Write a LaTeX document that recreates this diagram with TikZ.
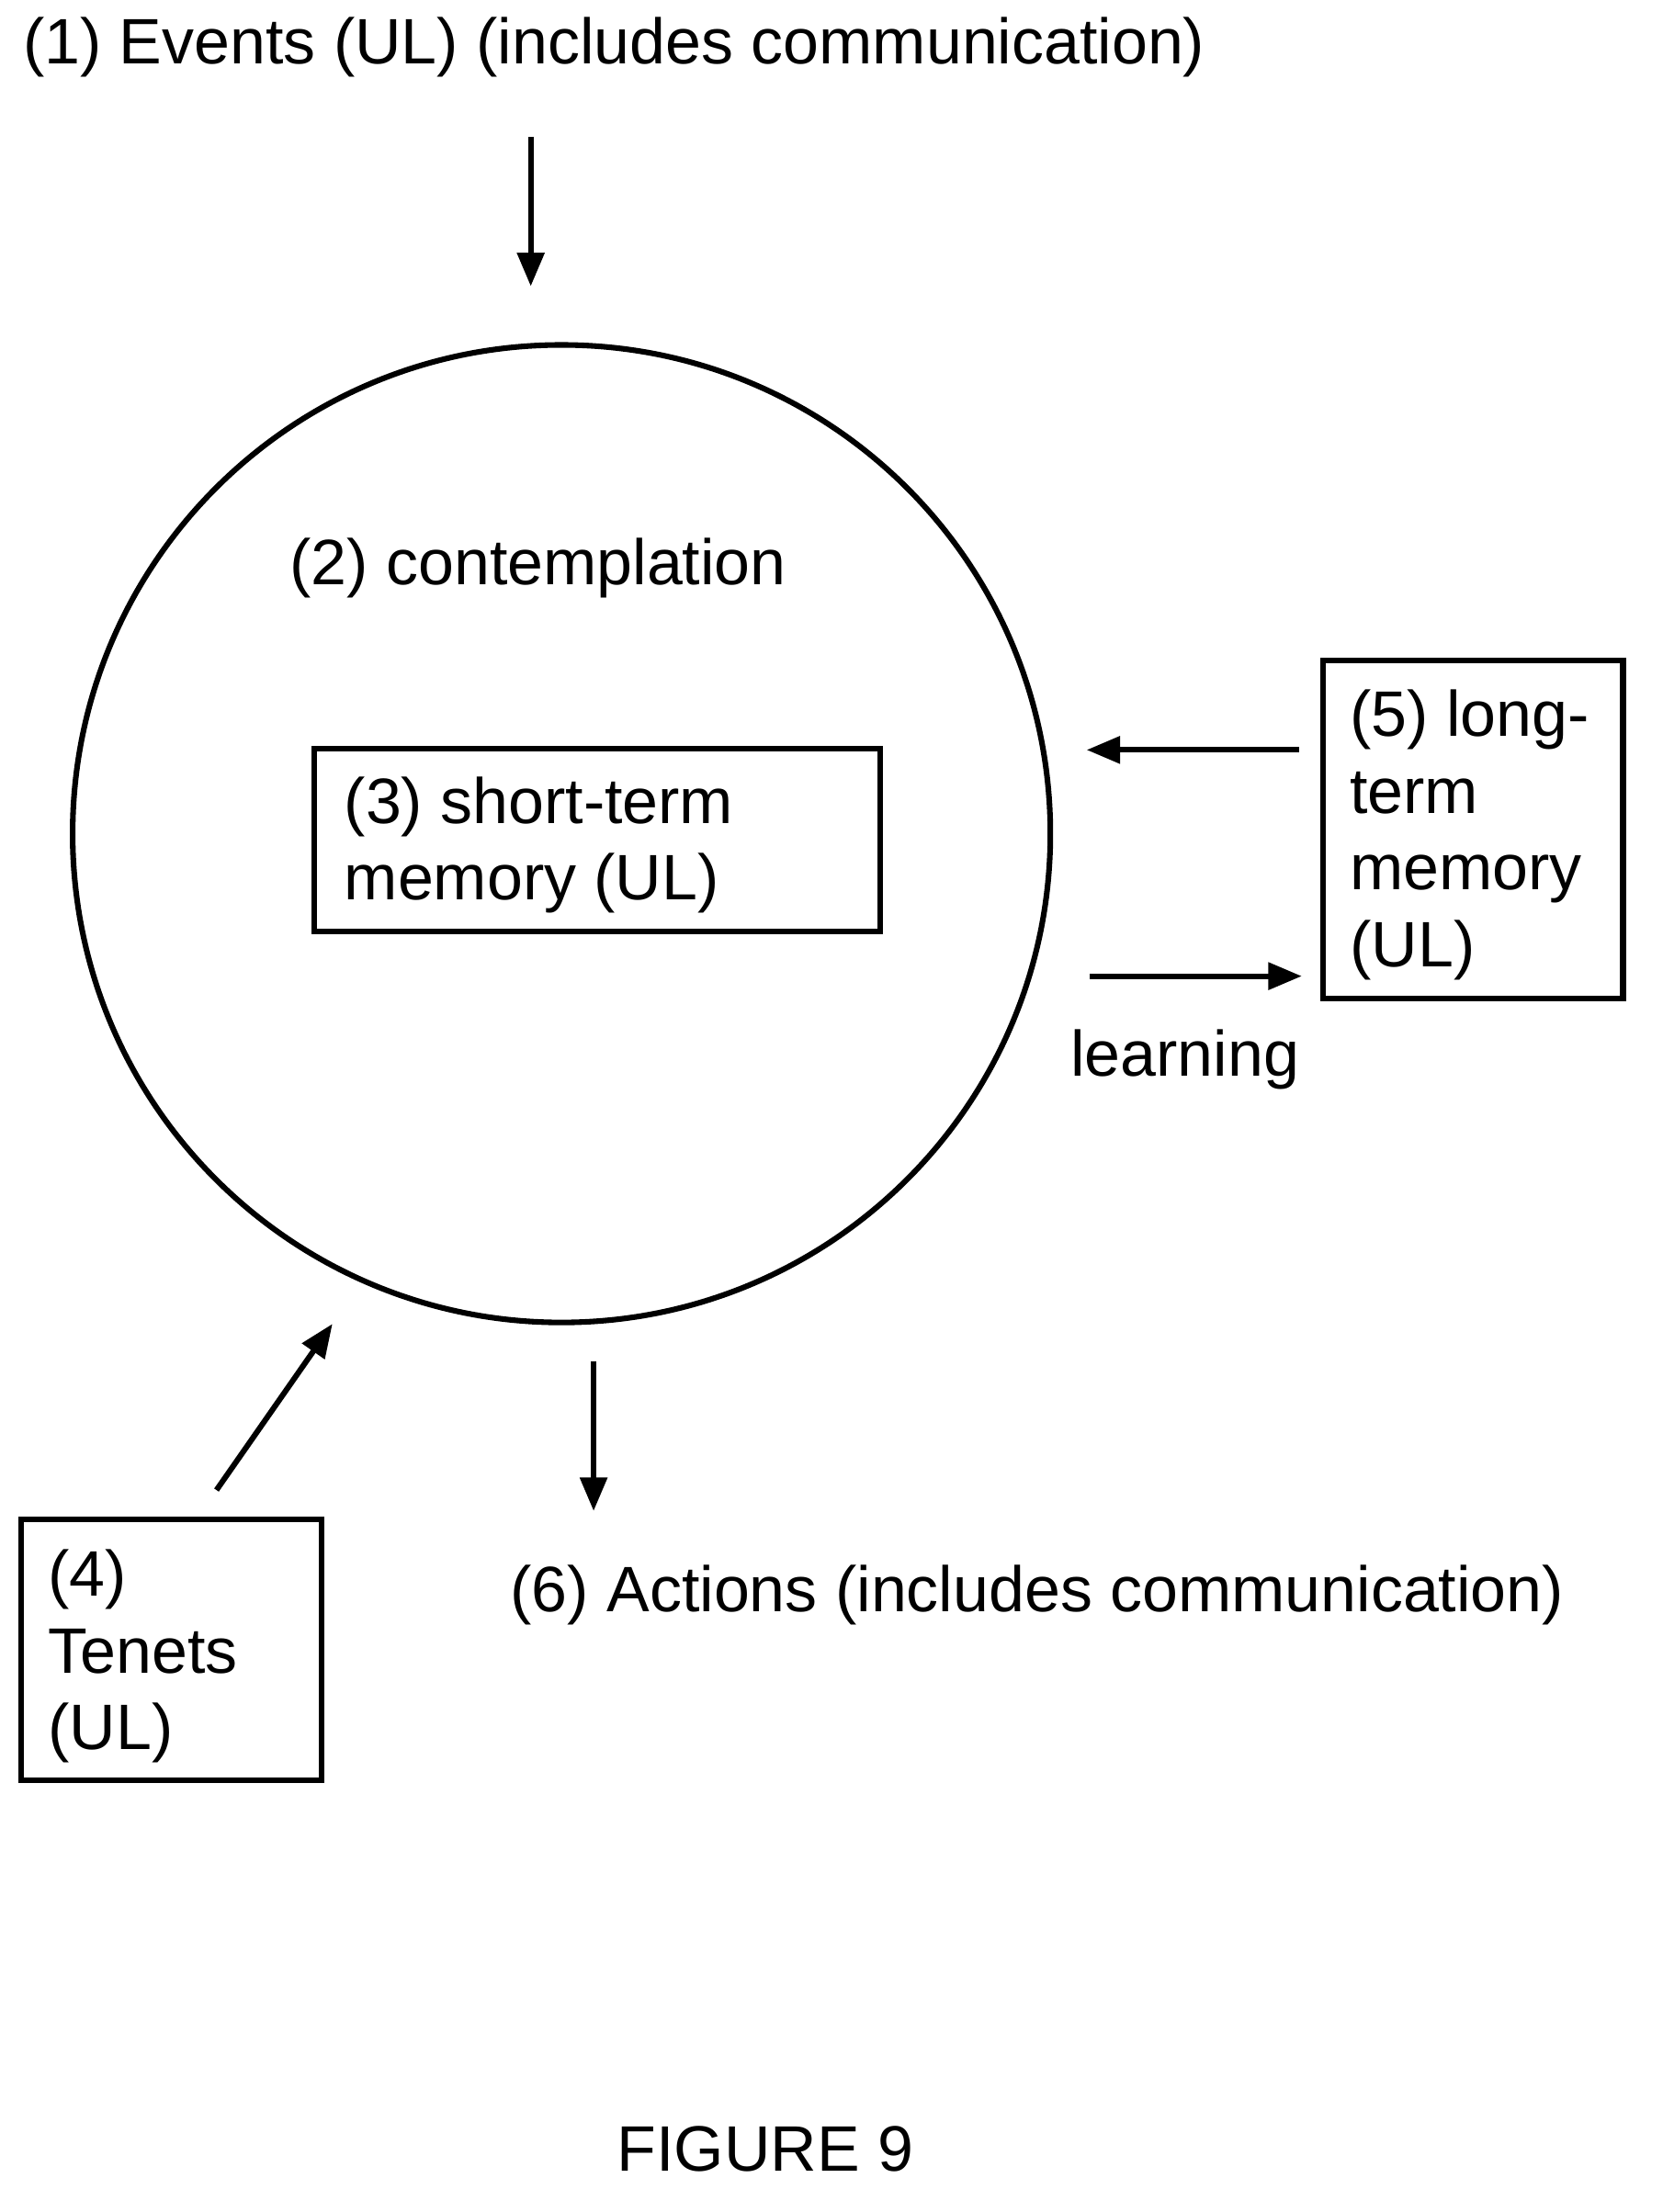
\documentclass[tikz,border=0pt]{standalone}
\usepackage{fontspec}
\setmainfont{Liberation Sans}
\usetikzlibrary{arrows.meta}
\begin{document}
\begin{tikzpicture}[x=1pt,y=-1pt,
  every node/.style={font=\fontsize{46}{55}\selectfont},
  ln/.style={line width=4pt},
  arr/.style={ln,-{Triangle[length=24pt,width=19pt]}}]
\useasboundingbox (0,0) rectangle (1190,1584);
\node[anchor=west] (t1) at (13,34) {(1) Events (UL) (includes communication)};
\coordinate (a1s) at (380,98); \coordinate (a1e) at (380,205);
\draw[arr] (a1s) -- (a1e);
\node[draw,circle,ln,minimum size=700pt,inner sep=0pt] (c) at (402,597) {};
\node[anchor=west] (t2) at (204,407) {(2) contemplation};
\node[draw,ln,minimum width=405pt,minimum height=131pt,inner sep=0pt] (b3) at (427.5,601.5) {};
\node[anchor=west,align=left] (t3) at (243,605) {(3) short-term\\memory (UL)};
\node[draw,ln,minimum width=215pt,minimum height=242pt,inner sep=0pt] (b5) at (1054.5,594) {};
\node[anchor=west,align=left] (t5) at (963,598) {(5) long-\\term\\memory\\(UL)};
\coordinate (l1s) at (930,537); \coordinate (l1e) at (778,537);
\draw[arr] (l1s) -- (l1e);
\coordinate (l2s) at (780,699); \coordinate (l2e) at (932,699);
\draw[arr] (l2s) -- (l2e);
\node[anchor=west] (lr) at (763,759) {learning};
\node[draw,ln,minimum width=215pt,minimum height=187pt,inner sep=0pt] (b4) at (122.5,1181.5) {};
\node[anchor=west,align=left] (t4) at (31,1186) {(4)\\Tenets\\(UL)};
\coordinate (a4s) at (155,1067); \coordinate (a4e) at (238,948);
\draw[arr] (a4s) -- (a4e);
\coordinate (a6s) at (425,975); \coordinate (a6e) at (425,1082);
\draw[arr] (a6s) -- (a6e);
\node[anchor=west] (t6) at (362,1142) {(6) Actions (includes communication)};
\node (fig) at (548,1539) {FIGURE 9};
\end{tikzpicture}
\end{document}
